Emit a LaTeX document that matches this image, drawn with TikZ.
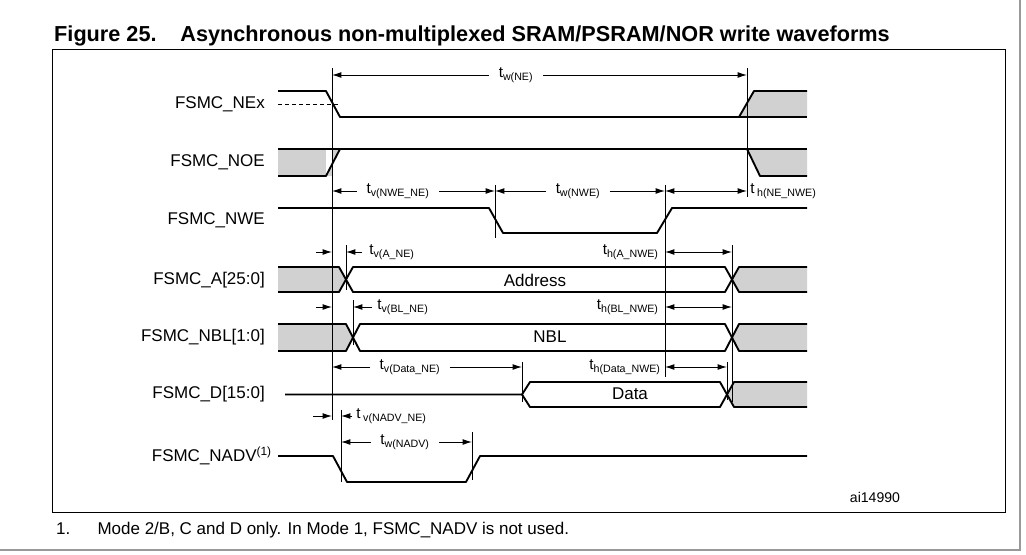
\documentclass[tikz,border=0pt]{standalone}
\usepackage{fontspec}
\setmainfont{Liberation Sans}
\usetikzlibrary{arrows.meta}
\begin{document}
\begin{tikzpicture}[x=0.03cm,y=-0.03cm,
  sig/.style={line width=1.6pt,line join=round},
  thin/.style={line width=0.8pt},
  dim/.style={line width=0.8pt,-{Latex[length=8pt,width=5pt]}},
  dimb/.style={line width=0.8pt,{Latex[length=8pt,width=5pt]}-{Latex[length=8pt,width=5pt]}},
  gr/.style={fill=black!18,draw=none},
  lab/.style={font=\fontsize{14.5}{16}\selectfont,anchor=east,inner sep=0},
  tl/.style={font=\fontsize{13}{15}\selectfont,inner xsep=8pt,inner ysep=1pt,fill=white},
  tn/.style={font=\fontsize{13}{15}\selectfont,inner sep=1pt},
  txt/.style={font=\fontsize{14.5}{16}\selectfont,inner sep=0}]
\useasboundingbox (0,0) rectangle (1026,554);
\fill[white] (0,0) rectangle (1026,554);
\draw[black!40,line width=1pt] (1020,0) -- (1020,550) -- (0,550);
% title
\node[anchor=west,inner sep=0,font=\bfseries\fontsize{18.5}{20}\selectfont] (title) at (54,36) {Figure 25.\hspace{1.1em}Asynchronous non-multiplexed SRAM/PSRAM/NOR write waveforms};
\draw[thin] (52,49) rectangle (1005,512);
% labels
\node[lab] (l1) at (265,104) {FSMC\_NEx};
\node[lab] (l2) at (265,162) {FSMC\_NOE};
\node[lab] (l3) at (265,220) {FSMC\_NWE};
\node[lab] (l4) at (265,280) {FSMC\_A[25:0]};
\node[lab] (l5) at (265,337) {FSMC\_NBL[1:0]};
\node[lab] (l6) at (265,394) {FSMC\_D[15:0]};
\node[lab] (l7) at (272,456) {FSMC\_NADV\textsuperscript{(1)}};
% gray fills
\fill[gr] (278,149) -- (326,149) -- (326,176) -- (278,176) -- cycle;
\fill[gr] (326,176) -- (340,149) -- (332,149) -- (332,176) -- cycle;
\fill[gr] (739,117) -- (754,91) -- (807,91) -- (807,117) -- cycle;
\fill[gr] (747,149) -- (807,149) -- (807,176) -- (760,176) -- cycle;
\fill[gr] (278,267) -- (339,267) -- (346,279.5) -- (339,292) -- (278,292) -- cycle;
\fill[gr] (278,324) -- (346,324) -- (353,337.5) -- (346,351) -- (278,351) -- cycle;
\fill[gr] (732,279.5) -- (739,267) -- (807,267) -- (807,292) -- (739,292) -- cycle;
\fill[gr] (732,337.5) -- (739,324) -- (807,324) -- (807,351) -- (739,351) -- cycle;
\fill[gr] (727,394.5) -- (734,382) -- (807,382) -- (807,407) -- (734,407) -- cycle;
% NEx
\draw[sig] (278,91) -- (326,91) -- (340,117) -- (739,117) -- (754,91) -- (807,91);
\draw[sig] (739,117) -- (807,117);
\draw[thin,dashed] (278,104) -- (340,104);
% NOE
\draw[sig] (278,149) -- (340,149) -- (747,149) -- (760,176) -- (807,176);
\draw[sig] (278,176) -- (326,176) -- (340,149);
\draw[sig] (747,149) -- (807,149);
% NWE
\draw[sig] (278,208) -- (489,208) -- (503,233) -- (657,233) -- (672,208) -- (807,208);
% Address bus
\draw[sig] (278,267) -- (339,267) -- (353,292) -- (725,292) -- (739,267) -- (807,267);
\draw[sig] (278,292) -- (339,292) -- (353,267) -- (725,267) -- (739,292) -- (807,292);
\node[txt] (addr) at (535,280) {Address};
% NBL bus
\draw[sig] (278,324) -- (346,324) -- (360,351) -- (725,351) -- (739,324) -- (807,324);
\draw[sig] (278,351) -- (346,351) -- (360,324) -- (725,324) -- (739,351) -- (807,351);
\node[txt] (nbl) at (550,337) {NBL};
% Data bus
\draw[sig] (285,394.5) -- (522,394.5) -- (530,382) -- (720,382) -- (734,407) -- (807,407);
\draw[sig] (522,394.5) -- (530,407) -- (720,407) -- (734,382) -- (807,382);
\node[txt] (data) at (630,394) {Data};
% NADV
\draw[sig] (278,456) -- (333,456) -- (347,482) -- (466,482) -- (480,456) -- (807,456);
% reference verticals
\draw[thin] (332,68) -- (332,420);
\draw[thin] (747,68) -- (747,197);
\draw[thin] (495,185) -- (495,238);
\draw[thin] (665,185) -- (665,377);
\draw[thin] (346,245) -- (346,290);
\draw[thin] (353,300) -- (353,345);
\draw[thin] (732,245) -- (732,402);
\draw[thin] (727,362) -- (727,400);
\draw[thin] (522,362) -- (522,402);
\draw[thin] (341,410) -- (341,482);
\draw[thin] (472,432) -- (472,480);
% tw(NE)
\node[tl] (twne) at (516,75) {t\textsubscript{w(NE)}};
\draw[dim] (twne.west) -- (332,75);
\draw[dim] (twne.east) -- (747,75);
% NWE row
\node[tl] (tvnwe) at (398,191) {t\textsubscript{v(NWE\_NE)}};
\draw[dim] (tvnwe.west) -- (332,191);
\draw[dim] (tvnwe.east) -- (495,191);
\node[tl] (twnwe) at (578,191) {t\textsubscript{w(NWE)}};
\draw[dim] (twnwe.west) -- (495,191);
\draw[dim] (twnwe.east) -- (665,191);
\draw[dimb] (665,191) -- (747,191);
\node[tn,anchor=west] (thne) at (749,191) {t\,\textsubscript{h(NE\_NWE)}};
% Address row
\coordinate (a1) at (316,252); \coordinate (a2) at (362,252);
\draw[dim] (a1) -- (332,252);
\draw[dim] (a2) -- (346,252);
\node[tn,anchor=west] (tvane) at (368,252) {t\textsubscript{v(A\_NE)}};
\draw[dimb] (665,252) -- (732,252);
\node[tn,anchor=east] (thane) at (660,252) {t\textsubscript{h(A\_NWE)}};
% NBL row
\coordinate (b1) at (316,307); \coordinate (b2) at (372,307);
\draw[dim] (b1) -- (332,307);
\draw[dim] (b2) -- (353,307);
\node[tn,anchor=west] (tvbl) at (376,307) {t\textsubscript{v(BL\_NE)}};
\draw[dimb] (665,307) -- (732,307);
\node[tn,anchor=east] (thbl) at (660,307) {t\textsubscript{h(BL\_NWE)}};
% Data row
\node[tl] (tvdata) at (410,367) {t\textsubscript{v(Data\_NE)}};
\draw[dim] (tvdata.west) -- (332,367);
\draw[dim] (tvdata.east) -- (522,367);
\draw[dimb] (665,367) -- (727,367);
\node[tn,anchor=east] (thdata) at (662,367) {t\textsubscript{h(Data\_NWE)}};
% NADV rows
\coordinate (c1) at (313,416); \coordinate (c2) at (352,416);
\draw[dim] (c1) -- (332,416);
\draw[dim] (c2) -- (341,416);
\node[tn,anchor=west] (tvnadv) at (355,416) {t\,\textsubscript{v(NADV\_NE)}};
\node[tl] (twnadv) at (405,442) {t\textsubscript{w(NADV)}};
\draw[dim] (twnadv.west) -- (341,442);
\draw[dim] (twnadv.east) -- (472,442);
\node[txt,font=\fontsize{12}{14}\selectfont] (ai) at (875,497) {ai14990};
\node[anchor=west,inner sep=0,font=\fontsize{14.5}{16}\selectfont] (fn) at (56,530) {1.\hspace{1.6em}Mode 2/B, C and D only. In Mode 1, FSMC\_NADV is not used.};
\end{tikzpicture}
\end{document}
